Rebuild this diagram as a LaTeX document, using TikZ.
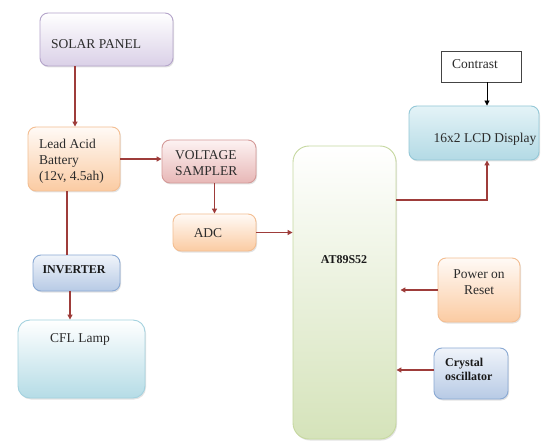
\documentclass[tikz,border=0pt]{standalone}
\usepackage{fontspec}
\setmainfont{Liberation Serif}
\usetikzlibrary{arrows.meta,shadows}
\definecolor{arrred}{HTML}{9E3C3A}
\definecolor{txt}{HTML}{2C2C2C}
\definecolor{btxt}{HTML}{1A1A1A}
\definecolor{purD}{HTML}{B4A4CA}\definecolor{purB}{HTML}{DAD0E7}
\definecolor{peaD}{HTML}{F3BE92}\definecolor{peaT}{HTML}{FFFAF6}\definecolor{peaB}{HTML}{FBCBA2}
\definecolor{pinD}{HTML}{D49A98}\definecolor{pinT}{HTML}{FDF2F2}\definecolor{pinB}{HTML}{E7B7B6}
\definecolor{grnD}{HTML}{C6D8A0}\definecolor{grnB}{HTML}{D5E3BA}
\definecolor{cyaD}{HTML}{94C8D7}\definecolor{cyaT}{HTML}{E4F3F7}\definecolor{cyaB}{HTML}{B3DAE5}
\definecolor{lamD}{HTML}{A4D2DF}\definecolor{lamB}{HTML}{B5DCE6}
\definecolor{bluD}{HTML}{8AA9D3}\definecolor{bluT}{HTML}{F0F4FA}\definecolor{bluB}{HTML}{B7CAE5}
\definecolor{plnD}{HTML}{444444}
\tikzset{
  box/.style={draw, rounded corners=8pt, line width=0.9pt, inner sep=0pt,
    drop shadow={opacity=0.22, shadow xshift=1pt, shadow yshift=-1.5pt}},
  purplebox/.style={box, draw=purD, top color=white, bottom color=purB},
  peachbox/.style={box, draw=peaD, top color=peaT, bottom color=peaB},
  pinkbox/.style={box, draw=pinD, top color=pinT, bottom color=pinB},
  greenbox/.style={box, rounded corners=16pt, draw=grnD, top color=white, bottom color=grnB},
  cyanbox/.style={box, draw=cyaD, top color=cyaT, bottom color=cyaB},
  lampbox/.style={box, rounded corners=12pt, draw=lamD, top color=white, bottom color=lamB},
  bluebox/.style={box, draw=bluD, top color=bluT, bottom color=bluB},
  plainbox/.style={draw=plnD, line width=0.8pt, fill=white, inner sep=0pt},
  lbl/.style={inner sep=0pt, text=txt, font=\fontsize{13.5}{15.5}\selectfont},
  blbl/.style={inner sep=0pt, text=btxt, font=\fontsize{12}{14}\selectfont\bfseries},
  arr/.style={draw=arrred, line width=1.2pt, -{Triangle[length=5pt,width=5pt]}},
  wire/.style={draw=arrred, line width=1.2pt},
  blackarr/.style={draw=black, line width=0.9pt, -{Triangle[length=5pt,width=5pt]}},
}
\begin{document}
\begin{tikzpicture}[x=1pt,y=-1pt]
\useasboundingbox[fill=white] (0,0) rectangle (544,441);
% boxes
\node[purplebox, minimum width=133pt, minimum height=53pt] (solar) at (106.5,39.5) {};
\node[peachbox, minimum width=92pt, minimum height=64pt] (batt) at (74,159) {};
\node[pinkbox, minimum width=94pt, minimum height=43pt] (vs) at (209,161.5) {};
\node[peachbox, minimum width=83pt, minimum height=37pt] (adc) at (214.5,232.5) {};
\node[greenbox, minimum width=103pt, minimum height=293pt] (mcu) at (344.5,292.5) {};
\node[cyanbox, minimum width=130pt, minimum height=54pt] (lcd) at (474,133) {};
\node[plainbox, minimum width=80pt, minimum height=31pt] (con) at (481,66.5) {};
\node[peachbox, minimum width=82pt, minimum height=64pt] (por) at (479,290) {};
\node[bluebox, minimum width=74pt, minimum height=51pt] (xtal) at (471,373.5) {};
\node[bluebox, minimum width=87pt, minimum height=36pt] (inv) at (76.5,273) {};
\node[lampbox, minimum width=127pt, minimum height=78pt] (cfl) at (81.5,359) {};
% texts
\node[lbl, anchor=base west] (tsolar) at (51,49) {SOLAR PANEL};
\node[lbl, anchor=base west] (tb1) at (39,149) {Lead Acid};
\node[lbl, anchor=base west] (tb2) at (39,165) {Battery};
\node[lbl, anchor=base west] (tb3) at (39,180.5) {(12v, 4.5ah)};
\node[lbl, anchor=base west] (tv1) at (175,160) {VOLTAGE};
\node[lbl, anchor=base west] (tv2) at (175,176) {SAMPLER};
\node[lbl, anchor=base] (tadc) at (208,237) {ADC};
\node[blbl, anchor=base] (tmcu) at (344,263) {AT89S52};
\node[lbl, anchor=base] (tlcd) at (485,143) {16x2 LCD Display};
\node[lbl, anchor=base] (tcon) at (475,69) {Contrast};
\node[lbl, anchor=base] (tp1) at (479,278) {Power on};
\node[lbl, anchor=base] (tp2) at (479,294) {Reset};
\node[blbl, anchor=base west] (tx1) at (445,366) {Crystal};
\node[blbl, anchor=base west] (tx2) at (445,380) {oscillator};
\node[blbl, anchor=base] (tinv) at (74,273.5) {INVERTER};
\node[lbl, anchor=base] (tcfl) at (80,342) {CFL Lamp};
% helper coordinates
\coordinate (x75) at (75,0);
\coordinate (x67) at (67,0);
\coordinate (x70) at (70,0);
\coordinate (c1) at (487,200);
\coordinate (y370) at (0,370);
% connectors
\draw[arr] (solar.south -| x75) -- (batt.north -| x75);
\draw[arr] (batt.east) -- (vs.west |- batt.east);
\draw[arr] (vs.south -| adc.north) -- (adc.north);
\draw[arr] (adc.east) -- (adc.east -| mcu.west);
\draw[arr] (mcu.east |- c1) -- (c1) -- (c1 |- lcd.south);
\draw[blackarr] (con.south -| c1) -- (lcd.north -| c1);
\draw[arr] (por.west) -- ([xshift=4pt]por.west -| mcu.east);
\draw[arr] (xtal.west |- y370) -- (mcu.east |- y370);
\draw[wire] (batt.south -| x67) -- (inv.north -| x67);
\draw[arr] (inv.south -| x70) -- (cfl.north -| x70);
\end{tikzpicture}
\end{document}
